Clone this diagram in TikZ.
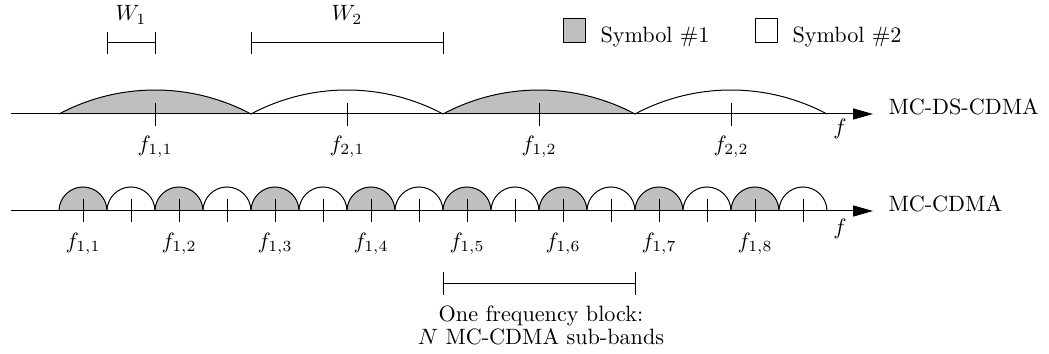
\documentclass[tikz,border=0pt]{standalone}
\usetikzlibrary{arrows.meta}
\begin{document}
\begin{tikzpicture}[x=0.451pt,y=0.451pt,
  line width=0.45pt,
  axisline/.style={-{Triangle[length=9pt,width=5pt]}},
  symfill/.style={fill=black!25},
  lbl/.style={inner sep=0pt},
  legbox/.style={draw, minimum width=10.2pt, minimum height=11pt, inner sep=0pt}]
\useasboundingbox (0,0) rectangle (1049,354);
% ---------- top (MC-DS-CDMA) ----------
\coordinate (ta0) at (11,240);
\coordinate (ta1) at (873,240);
\foreach \i/\c in {0/black!25,1/white,2/black!25,3/white}{
  \pgfmathsetmacro{\xl}{59+192*\i}
  \path[fill=\c] (\xl,240) arc[start angle=118.07, end angle=61.93, radius=204] -- cycle;
  \draw (\xl,240) arc[start angle=118.07, end angle=61.93, radius=204];
}
\draw[axisline] (ta0) -- (ta1);
\foreach \i/\lab in {0/{1,1},1/{2,1},2/{1,2},3/{2,2}}{
  \pgfmathsetmacro{\xc}{155+192*\i}
  \draw (\xc,251) -- (\xc,228);
  \node[lbl] (tf\i) at (\xc,207) {$f_{\lab}$};
}
\node[lbl, anchor=base west] (mcds) at (888,239) {MC-DS-CDMA};
\node[lbl] (tfax) at (840,225) {$f$};
% ---------- bottom (MC-CDMA) ----------
\coordinate (ba0) at (11,143);
\coordinate (ba1) at (873,143);
\foreach \k in {0,...,15}{
  \pgfmathsetmacro{\xl}{59+48*\k}
  \ifodd\k
    \path[fill=white] (\xl,143) arc[start angle=180, end angle=0, radius=24] -- cycle;
  \else
    \path[symfill] (\xl,143) arc[start angle=180, end angle=0, radius=24] -- cycle;
  \fi
  \draw (\xl,143) arc[start angle=180, end angle=0, radius=24];
}
\draw[axisline] (ba0) -- (ba1);
\foreach \k in {0,...,15}{
  \pgfmathsetmacro{\xc}{83+48*\k}
  \draw (\xc,155) -- (\xc,132);
}
\foreach \n in {1,...,8}{
  \pgfmathsetmacro{\xc}{83+96*(\n-1)}
  \node[lbl] (bf\n) at (\xc,110) {$f_{1,\n}$};
}
\node[lbl, anchor=base west] (mcc) at (888,142.5) {MC-CDMA};
\node[lbl] (bfax) at (840,125) {$f$};
% ---------- widths ----------
\coordinate (w1a) at (107,311);
\coordinate (w1b) at (155,311);
\draw (w1a) -- (w1b);
\draw ([yshift=5pt]w1a) -- ([yshift=-5pt]w1a);
\draw ([yshift=5pt]w1b) -- ([yshift=-5pt]w1b);
\node[lbl, anchor=base] (w1) at (131,333) {$W_1$};
\coordinate (w2a) at (251,311);
\coordinate (w2b) at (443,311);
\draw (w2a) -- (w2b);
\draw ([yshift=5pt]w2a) -- ([yshift=-5pt]w2a);
\draw ([yshift=5pt]w2b) -- ([yshift=-5pt]w2b);
\node[lbl, anchor=base] (w2) at (347,333) {$W_2$};
% ---------- legend ----------
\node[legbox, fill=black!25] (lg1) at (574.5,323.5) {};
\node[lbl, anchor=base west] (lt1) at (600,311) {Symbol \#1};
\node[legbox, fill=white] (lg2) at (766.5,323.5) {};
\node[lbl, anchor=base west] (lt2) at (792,311) {Symbol \#2};
% ---------- frequency block ----------
\coordinate (fba) at (443,70);
\coordinate (fbb) at (635,70);
\draw (fba) -- (fbb);
\draw ([yshift=5.2pt]fba) -- ([yshift=-5pt]fba);
\draw ([yshift=5.2pt]fbb) -- ([yshift=-5pt]fbb);
\node[lbl, align=center, anchor=north] (fbt) at (541,49) {One frequency block:\\[-1.6pt] $N$ MC-CDMA sub-bands};
\end{tikzpicture}
\end{document}
